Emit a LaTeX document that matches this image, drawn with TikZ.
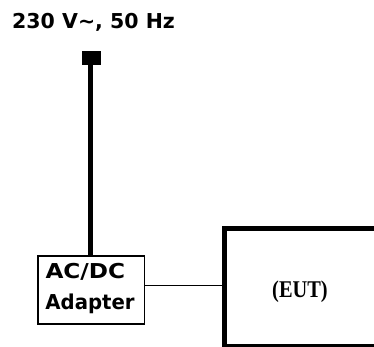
\documentclass[tikz,border=0pt]{standalone}
\usepackage{fontspec}
\newfontfamily\labelfont{DejaVu Sans}[BoldFont={DejaVu Sans Bold}]
\newfontfamily\eutfont{Liberation Serif}
\begin{document}
\begin{tikzpicture}[x=1pt,y=-1pt,
  sanslabel/.style={inner sep=0pt,anchor=base west,font=\labelfont\bfseries\fontsize{20.5}{24}\selectfont},
  thinbox/.style={draw,line width=1.8pt,inner sep=0pt,minimum width=106.2pt,minimum height=68.3pt},
  thickbox/.style={draw,line width=5pt,inner sep=0pt},
  plug/.style={fill,inner sep=0pt,minimum width=19pt,minimum height=14pt}]
\useasboundingbox (0,0) rectangle (374,347);
\fill[white] (0,0) rectangle (374,347);
\begin{scope}
\clip (0,0) rectangle (374,347);
% title
\node[sanslabel] (title) at (12,28.3) {230 V\textasciitilde, 50 Hz};
% plug terminal
\node[plug] (term) at (91.2,58) {};
% adapter
\node[thinbox] (adapter) at (91.4,290.15) {};
\node[sanslabel,xscale=1.13] (ac1) at (45.3,278.7) {AC/DC};
\node[sanslabel,xscale=0.96] (ac2) at (45.3,309.3) {Adapter};
% EUT
\node[thickbox,minimum width=195.5pt,minimum height=118pt] (eut) at (322.25,287.5) {};
\node[inner sep=0pt,anchor=base,xscale=0.85,font=\eutfont\bfseries\fontsize{24}{27}\selectfont] (euttext) at (300,297.7) {(EUT)};
% connectors
\draw[line width=5.5pt] ([xshift=-0.7pt]term.south) -- ([xshift=-0.7pt]term.south |- adapter.north);
\draw[line width=1.3pt] ([yshift=4.45pt]adapter.east) -- ([yshift=4.45pt]adapter.east -| eut.west);
\end{scope}
\end{tikzpicture}
\end{document}
